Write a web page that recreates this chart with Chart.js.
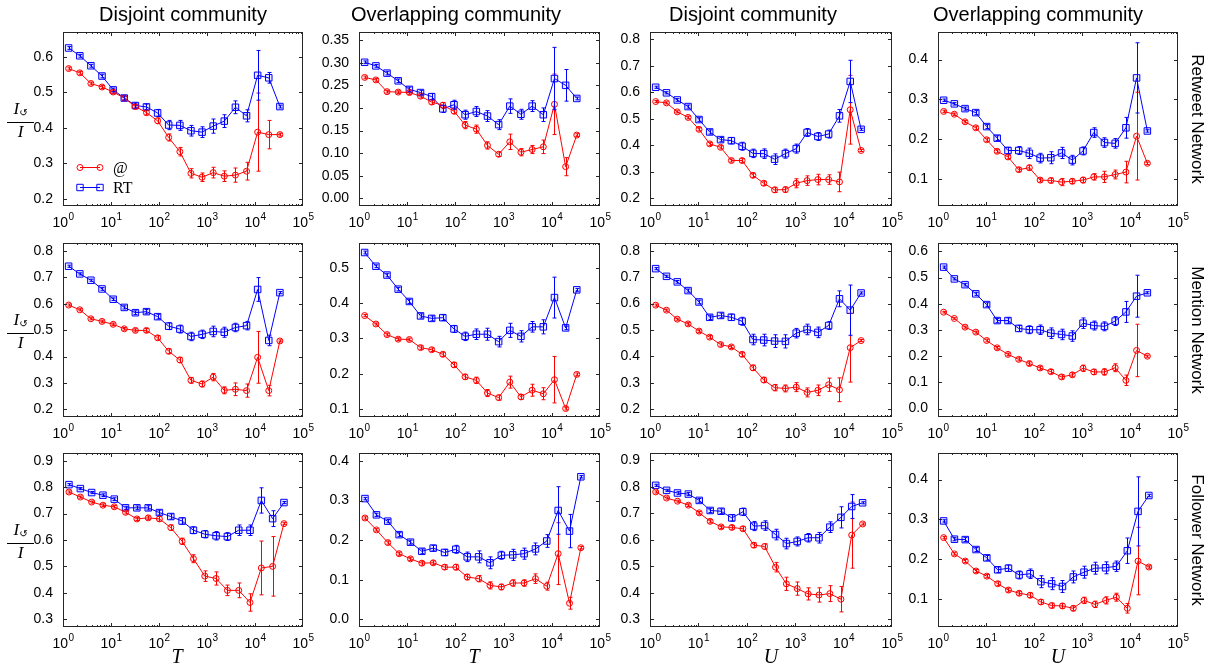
<!DOCTYPE html>
<html>
<head>
<meta charset="utf-8">
<script src="https://cdn.jsdelivr.net/npm/chart.js@4.4.1/dist/chart.umd.min.js"></script>
<style>
  body { margin: 0; background: #fff; width: 1213px; height: 670px; position: relative; overflow: hidden;
         font-family: "Liberation Sans", Arial, sans-serif; color: #000; }
  .panel { position: absolute; }
  .title { position: absolute; top: 2px; font-size: 20px; line-height: 24px; white-space: nowrap; transform: translateX(-50%); }
  .rowlab { position: absolute; font-size: 17px; line-height: 20px; white-space: nowrap; transform: translate(-50%, -50%) rotate(90deg); }
  .xlab { position: absolute; top: 646px; font-family: "Liberation Serif", serif; font-style: italic; font-size: 20px; line-height: 20px; transform: translateX(-50%); }
  .frac { position: absolute; left: 7px; width: 27px; text-align: center; font-family: "Liberation Serif", serif; font-style: italic; font-size: 17px; line-height: 15px; }
  .frac .bar { border-top: 1px solid #000; margin: 2px 0 1px 0; }
  .frac sub { font-style: normal; font-size: 10px; vertical-align: -2px; font-family: "DejaVu Sans", sans-serif; }
</style>
</head>
<body>
<div id="root"></div>
<script>
// ---- bin centres on the x axis ----
const binsT  = [1.31, 2.24, 3.81, 6.5, 11.1, 18.9, 32.2, 54.8, 93.5, 159, 272, 463, 789, 1345, 2290, 3910, 6670, 11350, 19360, 33000];
const binsTf = [1.33, 2.3, 3.95, 6.8, 11.7, 20.1, 34.6, 59.6, 102, 176, 303, 522, 899, 1545, 2660, 4580, 7870, 13550, 23300, 40100];
const binsU  = [1.31, 2.19, 3.66, 6.12, 10.3, 17.1, 28.7, 48, 80, 134, 224, 375, 628, 1050, 1760, 2940, 4910, 8220, 13700, 23000];
const binsUf = [1.31, 2.2, 3.7, 6.2, 10.4, 17.5, 29.4, 49, 83, 139, 233, 392, 658, 1100, 1850, 3100, 5200, 8800, 14700, 24700];

// ---- tick labels ----
const xDecades = [1, 10, 100, 1000, 10000, 100000];
const xExponents = ['0', '1', '2', '3', '4', '5'];
const ticksA = [0.2, 0.3, 0.4, 0.5, 0.6];
const ticksB = [0, 0.05, 0.1, 0.15, 0.2, 0.25, 0.3, 0.35];
const ticksC = [0.2, 0.3, 0.4, 0.5, 0.6, 0.7, 0.8];
const ticksD = [0.1, 0.2, 0.3, 0.4];
const ticksE = [0.1, 0.2, 0.3, 0.4, 0.5];
const ticksF = [0, 0.1, 0.2, 0.3, 0.4, 0.5, 0.6];
const ticksG = [0.3, 0.4, 0.5, 0.6, 0.7, 0.8, 0.9];
const ticksH = [0, 0.1, 0.2, 0.3, 0.4];

// ---- Retweet network ----
const twDT_At = [0.567,0.555,0.525,0.515,0.501,0.484,0.460,0.443,0.420,0.373,0.333,0.272,0.261,0.274,0.264,0.267,0.278,0.388,0.381,0.381];
const twDT_AtErr = [0.004,0.004,0.004,0.004,0.005,0.005,0.006,0.007,0.008,0.01,0.012,0.013,0.012,0.015,0.015,0.02,0.025,0.11,0.04,0.004];
const twDT_Rt = [0.625,0.603,0.575,0.546,0.507,0.484,0.463,0.459,0.442,0.408,0.407,0.392,0.388,0.405,0.419,0.458,0.434,0.548,0.541,0.460];
const twDT_RtErr = [0.004,0.004,0.004,0.005,0.005,0.006,0.007,0.008,0.01,0.013,0.014,0.015,0.015,0.02,0.018,0.018,0.017,0.07,0.015,0.004];

const twOT_At = [0.2675,0.262,0.236,0.235,0.234,0.226,0.213,0.206,0.193,0.162,0.153,0.117,0.0975,0.125,0.102,0.108,0.114,0.208,0.070,0.140];
const twOT_AtErr = [0.003,0.003,0.003,0.003,0.004,0.004,0.005,0.006,0.006,0.008,0.009,0.008,0.005,0.017,0.008,0.009,0.015,0.067,0.02,0.003];
const twOT_Rt = [0.301,0.293,0.277,0.260,0.241,0.234,0.225,0.198,0.207,0.185,0.192,0.182,0.163,0.204,0.186,0.204,0.185,0.265,0.250,0.221];
const twOT_RtErr = [0.003,0.003,0.004,0.004,0.005,0.005,0.007,0.008,0.01,0.01,0.011,0.012,0.011,0.016,0.011,0.012,0.015,0.069,0.035,0.003];

const twDU_At = [0.565,0.560,0.526,0.505,0.460,0.405,0.392,0.342,0.342,0.286,0.256,0.231,0.232,0.256,0.266,0.270,0.270,0.261,0.534,0.380];
const twDU_AtErr = [0.004,0.004,0.004,0.005,0.006,0.006,0.006,0.006,0.007,0.008,0.008,0.01,0.01,0.017,0.018,0.02,0.018,0.037,0.13,0.004];
const twDU_Rt = [0.619,0.598,0.571,0.546,0.497,0.450,0.421,0.417,0.396,0.369,0.368,0.347,0.368,0.387,0.448,0.433,0.442,0.511,0.641,0.460];
const twDU_RtErr = [0.004,0.004,0.005,0.006,0.007,0.008,0.008,0.012,0.015,0.016,0.018,0.02,0.017,0.017,0.015,0.015,0.015,0.024,0.08,0.004];

const twOU_At = [0.270,0.263,0.244,0.229,0.199,0.170,0.156,0.124,0.129,0.098,0.097,0.093,0.095,0.098,0.106,0.106,0.112,0.118,0.208,0.140];
const twOU_AtErr = [0.003,0.003,0.003,0.004,0.004,0.004,0.005,0.005,0.006,0.005,0.006,0.009,0.006,0.007,0.008,0.014,0.011,0.027,0.11,0.003];
const twOU_Rt = [0.298,0.289,0.277,0.267,0.232,0.203,0.172,0.172,0.165,0.153,0.154,0.166,0.148,0.171,0.217,0.192,0.190,0.229,0.354,0.221];
const twOU_RtErr = [0.003,0.003,0.004,0.005,0.005,0.006,0.008,0.01,0.013,0.012,0.015,0.014,0.012,0.01,0.012,0.012,0.012,0.026,0.088,0.003];

// ---- Mention network ----
const mnDT_At = [0.595,0.577,0.543,0.533,0.522,0.505,0.499,0.499,0.471,0.420,0.387,0.310,0.296,0.322,0.272,0.276,0.271,0.397,0.271,0.459];
const mnDT_AtErr = [0.004,0.004,0.004,0.005,0.005,0.005,0.006,0.007,0.008,0.009,0.01,0.011,0.011,0.014,0.013,0.024,0.025,0.098,0.02,0.004];
const mnDT_Rt = [0.742,0.713,0.689,0.656,0.617,0.586,0.566,0.570,0.551,0.515,0.504,0.476,0.484,0.495,0.492,0.510,0.517,0.654,0.461,0.642];
const mnDT_RtErr = [0.004,0.004,0.004,0.005,0.005,0.006,0.007,0.008,0.009,0.013,0.015,0.016,0.016,0.02,0.019,0.016,0.016,0.045,0.02,0.004];

const mnOT_At = [0.365,0.341,0.311,0.298,0.297,0.274,0.268,0.255,0.225,0.191,0.181,0.145,0.132,0.176,0.134,0.153,0.143,0.183,0.101,0.198];
const mnOT_AtErr = [0.003,0.003,0.004,0.004,0.004,0.005,0.005,0.006,0.007,0.007,0.009,0.01,0.007,0.017,0.007,0.017,0.017,0.066,0.004,0.004];
const mnOT_Rt = [0.544,0.505,0.480,0.440,0.405,0.364,0.357,0.359,0.327,0.306,0.312,0.312,0.291,0.323,0.306,0.333,0.333,0.416,0.330,0.438];
const mnOT_RtErr = [0.004,0.004,0.005,0.005,0.006,0.006,0.007,0.008,0.01,0.012,0.015,0.017,0.015,0.02,0.016,0.015,0.02,0.058,0.005,0.004];

const mnDU_At = [0.594,0.575,0.541,0.523,0.496,0.473,0.445,0.436,0.408,0.357,0.311,0.282,0.279,0.284,0.264,0.272,0.293,0.274,0.433,0.460];
const mnDU_AtErr = [0.004,0.004,0.004,0.005,0.005,0.006,0.006,0.006,0.008,0.01,0.01,0.012,0.013,0.017,0.017,0.02,0.025,0.045,0.13,0.004];
const mnDU_Rt = [0.732,0.703,0.682,0.649,0.606,0.548,0.555,0.548,0.533,0.464,0.462,0.458,0.457,0.488,0.502,0.491,0.517,0.618,0.575,0.640];
const mnDU_RtErr = [0.004,0.004,0.005,0.006,0.007,0.008,0.009,0.012,0.015,0.02,0.022,0.024,0.025,0.018,0.02,0.02,0.015,0.03,0.095,0.004];

const mnOU_At = [0.368,0.344,0.311,0.292,0.260,0.232,0.207,0.188,0.172,0.155,0.141,0.121,0.129,0.154,0.140,0.140,0.156,0.108,0.222,0.200];
const mnOU_AtErr = [0.003,0.003,0.004,0.004,0.005,0.005,0.005,0.006,0.007,0.007,0.008,0.008,0.008,0.012,0.01,0.012,0.015,0.02,0.1,0.004];
const mnOU_Rt = [0.540,0.495,0.473,0.438,0.397,0.336,0.336,0.306,0.301,0.301,0.288,0.283,0.277,0.326,0.317,0.314,0.334,0.369,0.429,0.442];
const mnOU_RtErr = [0.004,0.004,0.005,0.006,0.007,0.008,0.01,0.012,0.015,0.018,0.02,0.02,0.02,0.02,0.017,0.017,0.017,0.04,0.08,0.004];

// ---- Follower network ----
const flDT_At = [0.782,0.763,0.744,0.732,0.726,0.705,0.680,0.684,0.680,0.647,0.595,0.529,0.463,0.454,0.409,0.409,0.363,0.494,0.500,0.662];
const flDT_AtErr = [0.004,0.004,0.004,0.005,0.005,0.006,0.006,0.007,0.009,0.01,0.012,0.015,0.02,0.025,0.02,0.028,0.033,0.102,0.113,0.004];
const flDT_Rt = [0.810,0.795,0.780,0.770,0.755,0.722,0.722,0.722,0.704,0.689,0.672,0.637,0.622,0.616,0.613,0.637,0.637,0.750,0.681,0.742];
const flDT_RtErr = [0.004,0.004,0.004,0.005,0.005,0.006,0.007,0.008,0.009,0.01,0.012,0.013,0.014,0.016,0.015,0.02,0.02,0.048,0.03,0.004];

const flOT_At = [0.256,0.226,0.194,0.166,0.153,0.142,0.143,0.132,0.132,0.107,0.103,0.086,0.082,0.092,0.092,0.103,0.084,0.166,0.041,0.181];
const flOT_AtErr = [0.003,0.003,0.004,0.004,0.004,0.005,0.005,0.006,0.007,0.007,0.008,0.009,0.007,0.008,0.008,0.012,0.01,0.078,0.015,0.003];
const flOT_Rt = [0.305,0.264,0.248,0.214,0.195,0.172,0.180,0.169,0.177,0.158,0.158,0.143,0.162,0.163,0.166,0.178,0.198,0.275,0.223,0.360];
const flOT_RtErr = [0.003,0.004,0.004,0.005,0.005,0.006,0.007,0.008,0.01,0.012,0.015,0.015,0.01,0.014,0.014,0.015,0.016,0.06,0.042,0.003];

const flDU_At = [0.781,0.758,0.746,0.731,0.702,0.670,0.649,0.647,0.642,0.580,0.575,0.497,0.434,0.416,0.396,0.392,0.397,0.376,0.618,0.660];
const flDU_AtErr = [0.004,0.004,0.004,0.005,0.005,0.006,0.006,0.007,0.008,0.009,0.01,0.018,0.025,0.025,0.023,0.027,0.03,0.048,0.125,0.004];
const flDU_Rt = [0.806,0.787,0.777,0.773,0.749,0.711,0.708,0.683,0.706,0.652,0.654,0.620,0.586,0.594,0.608,0.608,0.648,0.685,0.726,0.740];
const flDU_RtErr = [0.004,0.004,0.005,0.006,0.007,0.008,0.009,0.012,0.014,0.017,0.018,0.02,0.02,0.017,0.016,0.02,0.02,0.04,0.045,0.004];

const flOU_At = [0.254,0.213,0.195,0.170,0.157,0.138,0.122,0.114,0.109,0.092,0.083,0.082,0.076,0.096,0.086,0.096,0.104,0.076,0.195,0.180];
const flOU_AtErr = [0.003,0.003,0.004,0.004,0.004,0.005,0.005,0.005,0.006,0.006,0.006,0.006,0.006,0.008,0.008,0.009,0.01,0.012,0.085,0.003];
const flOU_Rt = [0.296,0.250,0.249,0.224,0.203,0.173,0.177,0.160,0.163,0.143,0.138,0.131,0.155,0.167,0.177,0.178,0.182,0.221,0.320,0.360];
const flOU_RtErr = [0.003,0.004,0.005,0.005,0.006,0.007,0.008,0.01,0.012,0.015,0.015,0.015,0.015,0.015,0.015,0.015,0.013,0.032,0.087,0.003];

// y ranges of each panel
const yRanges = [
    [0.18, 0.67], [-0.017, 0.368], [0.17, 0.828], [0.033, 0.469],
    [0.171, 0.83], [0.077, 0.571], [0.171, 0.829], [-0.032, 0.632],
    [0.27, 0.93], [-0.019, 0.42], [0.271, 0.928], [0.029, 0.467]
];

const colTitles = ['Disjoint community', 'Overlapping community', 'Disjoint community', 'Overlapping community'];
const rowTitles = ['Retweet Network', 'Mention Network', 'Follower Network'];
const xTitles = ['T', 'T', 'U', 'U'];

// plot areas in page pixels
const cols = [{ l: 63, r: 303 }, { l: 359, r: 600 }, { l: 650, r: 892 }, { l: 938, r: 1178 }];
const rows = [{ t: 32, b: 206 }, { t: 243, b: 417 }, { t: 453, b: 627 }];
const titleX = [183, 456, 753, 1038];
const xTitleX = [177, 474, 771, 1058];

const panels = [
    { x: binsT,  at: twDT_At, atErr: twDT_AtErr, rt: twDT_Rt, rtErr: twDT_RtErr, ticks: ticksA, dec: 1, legend: true },
    { x: binsT,  at: twOT_At, atErr: twOT_AtErr, rt: twOT_Rt, rtErr: twOT_RtErr, ticks: ticksB, dec: 2 },
    { x: binsU,  at: twDU_At, atErr: twDU_AtErr, rt: twDU_Rt, rtErr: twDU_RtErr, ticks: ticksC, dec: 1 },
    { x: binsU,  at: twOU_At, atErr: twOU_AtErr, rt: twOU_Rt, rtErr: twOU_RtErr, ticks: ticksD, dec: 1 },
    { x: binsT,  at: mnDT_At, atErr: mnDT_AtErr, rt: mnDT_Rt, rtErr: mnDT_RtErr, ticks: ticksC, dec: 1 },
    { x: binsT,  at: mnOT_At, atErr: mnOT_AtErr, rt: mnOT_Rt, rtErr: mnOT_RtErr, ticks: ticksE, dec: 1 },
    { x: binsU,  at: mnDU_At, atErr: mnDU_AtErr, rt: mnDU_Rt, rtErr: mnDU_RtErr, ticks: ticksC, dec: 1 },
    { x: binsU,  at: mnOU_At, atErr: mnOU_AtErr, rt: mnOU_Rt, rtErr: mnOU_RtErr, ticks: ticksF, dec: 1 },
    { x: binsTf, at: flDT_At, atErr: flDT_AtErr, rt: flDT_Rt, rtErr: flDT_RtErr, ticks: ticksG, dec: 1 },
    { x: binsTf, at: flOT_At, atErr: flOT_AtErr, rt: flOT_Rt, rtErr: flOT_RtErr, ticks: ticksH, dec: 1 },
    { x: binsUf, at: flDU_At, atErr: flDU_AtErr, rt: flDU_Rt, rtErr: flDU_RtErr, ticks: ticksG, dec: 1 },
    { x: binsUf, at: flOU_At, atErr: flOU_AtErr, rt: flOU_Rt, rtErr: flOU_RtErr, ticks: ticksD, dec: 1 }
];

const RED = 'rgb(255,0,0)';
const BLUE = 'rgb(0,0,255)';
const SANS = '"Liberation Sans", Arial, sans-serif';
// PAD_TOP has to be larger than the half label + tick padding chart.js reserves above the y axis
const AXIS_W = 42, PAD_TOP = 20, PAD_RIGHT = 16, AXIS_H = 26;

// box, inward ticks and 10^n labels, matlab style
const matlabAxes = {
    id: 'matlabAxes',
    afterDraw(chart) {
        const { ctx, chartArea: a, scales: { x, y } } = chart;
        ctx.save();
        ctx.strokeStyle = '#262626';
        ctx.lineWidth = 1;
        ctx.strokeRect(a.left + 0.5, a.top + 0.5, a.right - a.left - 1, a.bottom - a.top - 1);
        ctx.beginPath();
        y.ticks.forEach(t => {
            const py = Math.round(y.getPixelForValue(t.value)) + 0.5;
            ctx.moveTo(a.left, py); ctx.lineTo(a.left + 4, py);
            ctx.moveTo(a.right, py); ctx.lineTo(a.right - 4, py);
        });
        for (let k = 0; k < 5; k++) {
            for (let m = 1; m < 10; m++) {
                const px = Math.round(x.getPixelForValue(m * Math.pow(10, k))) + 0.5;
                const len = m === 1 ? 4 : 2;
                ctx.moveTo(px, a.bottom); ctx.lineTo(px, a.bottom - len);
                ctx.moveTo(px, a.top); ctx.lineTo(px, a.top + len);
            }
        }
        ctx.stroke();
        // decade labels with a raised exponent
        ctx.fillStyle = '#000';
        ctx.textAlign = 'left';
        ctx.textBaseline = 'alphabetic';
        xDecades.forEach((v, k) => {
            const px = x.getPixelForValue(v);
            ctx.font = '14px ' + SANS;
            const w1 = ctx.measureText('10').width;
            ctx.font = '10px ' + SANS;
            const w2 = ctx.measureText(xExponents[k]).width;
            const x0 = px - (w1 + w2) / 2;
            ctx.font = '14px ' + SANS;
            ctx.fillText('10', x0, a.bottom + 21);
            ctx.font = '10px ' + SANS;
            ctx.fillText(xExponents[k], x0 + w1 + 0.5, a.bottom + 14);
        });
        ctx.restore();
    }
};

// vertical error bars with small caps
const errorBars = {
    id: 'errorBars',
    afterDatasetsDraw(chart) {
        const { ctx, scales: { y } } = chart;
        ctx.save();
        ctx.lineWidth = 1;
        chart.data.datasets.forEach((ds, i) => {
            const meta = chart.getDatasetMeta(i);
            ctx.strokeStyle = ds.borderColor;
            ctx.beginPath();
            meta.data.forEach((pt, j) => {
                const e = ds.errors[j];
                const v = ds.data[j].y;
                const y1 = y.getPixelForValue(v + e), y2 = y.getPixelForValue(v - e);
                const px = Math.round(pt.x) + 0.5;
                ctx.moveTo(px, y1); ctx.lineTo(px, y2);
                ctx.moveTo(px - 2, y1); ctx.lineTo(px + 2, y1);
                ctx.moveTo(px - 2, y2); ctx.lineTo(px + 2, y2);
            });
            ctx.stroke();
        });
        ctx.restore();
    }
};

// legend inside the first panel
const legendBox = {
    id: 'legendBox',
    afterDraw(chart) {
        const { ctx, chartArea: a } = chart;
        const items = [
            { label: '@', color: RED, style: 'circle', dy: 135 },
            { label: 'RT', color: BLUE, style: 'rect', dy: 155 }
        ];
        ctx.save();
        ctx.lineWidth = 1;
        items.forEach(it => {
            const y0 = a.top + it.dy + 0.5;
            const xs = [a.left + 17, a.left + 37];
            ctx.strokeStyle = it.color;
            ctx.beginPath();
            ctx.moveTo(xs[0], y0); ctx.lineTo(xs[1], y0);
            ctx.stroke();
            xs.forEach(px => {
                ctx.beginPath();
                if (it.style === 'circle') ctx.arc(px, y0, 3, 0, Math.PI * 2);
                else ctx.rect(px - 3.2, y0 - 3.2, 6.4, 6.4);
                ctx.stroke();
            });
            ctx.fillStyle = '#000';
            ctx.font = '16px "Liberation Serif", "Times New Roman", serif';
            ctx.textBaseline = 'middle';
            ctx.fillText(it.label, a.left + 50, y0 + 1);
        });
        ctx.restore();
    }
};

document.addEventListener('DOMContentLoaded', function() {
    const root = document.getElementById('root');

    panels.forEach((p, idx) => {
        const r = rows[Math.floor(idx / 4)], c = cols[idx % 4];
        const [yMin, yMax] = yRanges[idx];
        const div = document.createElement('div');
        div.className = 'panel';
        const w = AXIS_W + (c.r - c.l) + PAD_RIGHT;
        const h = PAD_TOP + (r.b - r.t) + AXIS_H;
        div.style.left = (c.l - AXIS_W) + 'px';
        div.style.top = (r.t - PAD_TOP) + 'px';
        const canvas = document.createElement('canvas');
        canvas.width = w; canvas.height = h;
        canvas.style.width = w + 'px'; canvas.style.height = h + 'px';
        div.appendChild(canvas);
        root.appendChild(div);

        const series = (vals, errs, label, color, style, radius, fill) => ({
            label: label,
            data: p.x.map((xv, i) => ({ x: xv, y: vals[i] })),
            errors: errs,
            borderColor: color,
            backgroundColor: fill,
            pointBackgroundColor: fill,
            pointBorderColor: color,
            borderWidth: 1,
            pointBorderWidth: 1,
            pointStyle: style,
            pointRadius: radius,
            fill: false,
            tension: 0
        });

        new Chart(canvas, {
            type: 'line',
            data: {
                datasets: [
                    series(p.at, p.atErr, '@', RED, 'circle', 3, 'rgba(255,0,0,0.08)'),
                    series(p.rt, p.rtErr, 'RT', BLUE, 'rect', 4.6, 'rgba(0,0,255,0.08)')
                ]
            },
            options: {
                responsive: false,
                animation: false,
                devicePixelRatio: 1,
                layout: { padding: { top: PAD_TOP, right: PAD_RIGHT, left: 0, bottom: 0 } },
                plugins: { legend: { display: false }, tooltip: { enabled: false } },
                scales: {
                    x: {
                        type: 'logarithmic', min: 1, max: 100000,
                        afterBuildTicks: s => { s.ticks = xDecades.map(v => ({ value: v })); },
                        afterFit: s => { s.height = AXIS_H; },
                        grid: { display: false, drawTicks: false },
                        border: { display: false },
                        ticks: { display: false }
                    },
                    y: {
                        min: yMin, max: yMax,
                        afterBuildTicks: s => { s.ticks = p.ticks.map(v => ({ value: v })); },
                        afterFit: s => { s.width = AXIS_W; },
                        grid: { display: false, drawTicks: false },
                        border: { display: false },
                        ticks: {
                            padding: 10, color: '#000',
                            font: { family: SANS, size: 14 },
                            callback: v => Number(v).toFixed(p.dec)
                        }
                    }
                }
            },
            plugins: p.legend ? [matlabAxes, errorBars, legendBox] : [matlabAxes, errorBars]
        });
    });

    // column titles, row titles, axis titles
    colTitles.forEach((t, i) => {
        const el = document.createElement('div');
        el.className = 'title';
        el.style.left = titleX[i] + 'px';
        el.textContent = t;
        root.appendChild(el);
    });
    rowTitles.forEach((t, i) => {
        const el = document.createElement('div');
        el.className = 'rowlab';
        el.style.left = '1197px';
        el.style.top = ((rows[i].t + rows[i].b) / 2) + 'px';
        el.textContent = t;
        root.appendChild(el);
    });
    xTitles.forEach((t, i) => {
        const el = document.createElement('div');
        el.className = 'xlab';
        el.style.left = xTitleX[i] + 'px';
        el.textContent = t;
        root.appendChild(el);
    });
    rows.forEach(r => {
        const el = document.createElement('div');
        el.className = 'frac';
        el.style.top = ((r.t + r.b) / 2 - 18) + 'px';
        el.innerHTML = '<div><span>I</span><sub>↺</sub></div><div class="bar"></div><div>I</div>';
        root.appendChild(el);
    });
});
</script>
</body>
</html>
